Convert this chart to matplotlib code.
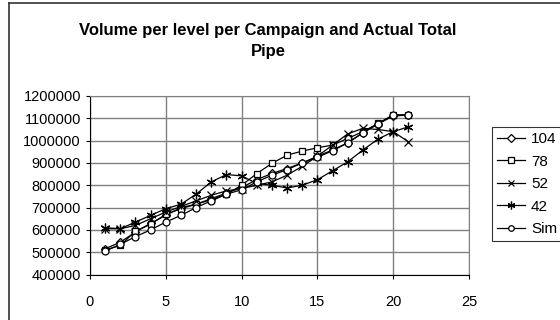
import matplotlib
matplotlib.use('Agg')
import matplotlib.pyplot as plt
from matplotlib.lines import Line2D

plt.rcParams['font.family'] = ['Liberation Sans', 'DejaVu Sans']

levels = list(range(1, 22))
s104 = [515000, 545000, 590000, 630000, 665000, 700000, 715000, 740000, 765000, 790000, 825000,
        853000, 875000, 900000, 930000, 958000, 990000, 1035000, 1075000, 1110000, 1115000]
s78 = [510000, 530000, 595000, 625000, 670000, 695000, 715000, 735000, 760000, 800000, 852000,
       898000, 935000, 953000, 968000, 980000, 1010000, 1040000, 1077000, 1115000, 1115000]
s52 = [605000, 605000, 620000, 650000, 680000, 705000, 730000, 755000, 775000, 785000, 800000,
       815000, 845000, 885000, 930000, 980000, 1030000, 1055000, 1050000, 1040000, 995000]
s42 = [610000, 605000, 635000, 665000, 695000, 715000, 760000, 815000, 848000, 842000, 808000,
       800000, 788000, 800000, 825000, 865000, 905000, 958000, 1007000, 1040000, 1062000]
sim = [505000, 535000, 570000, 600000, 635000, 665000, 700000, 730000, 760000, 780000, 815000,
       845000, 870000, 900000, 925000, 955000, 990000, 1035000, 1075000, 1115000, 1115000]

labels = ['104', '78', '52', '42', 'Sim']
series = [s104, s78, s52, s42, sim]
markers = ['D', 's', 'x', (6, 2, 0), 'o']
msizes = [4.5, 5, 6, 7, 5]

fig = plt.figure(figsize=(5.6, 3.2), dpi=100)
ax = fig.add_axes([90/560, 1-274.5/320, 379/560, 178.5/320])

for y, lab, m, ms in zip(series, labels, markers, msizes):
    ax.plot(levels, y, color='black', lw=0.9, marker=m, markersize=ms,
            markerfacecolor='white', markeredgecolor='black', markeredgewidth=0.9,
            label=lab)

ax.set_xlim(0, 25)
ax.set_ylim(400000, 1200000)
ax.set_xticks([0, 5, 10, 15, 20, 25])
ax.set_yticks(range(400000, 1200001, 100000))
ax.ticklabel_format(axis='y', style='plain', useOffset=False)
ax.grid(True, color='#808080', lw=1.0)
ax.set_axisbelow(True)
ax.tick_params(labelsize=10.5, length=3, direction='out', color='black', width=0.8)
ax.tick_params(axis='x', pad=12)
for side in ['top', 'right']:
    ax.spines[side].set_color('#808080')
for side in ['left', 'bottom']:
    ax.spines[side].set_color('black')

fig.text(268/560, 1-41/320, 'Volume per level per Campaign and Actual Total\nPipe',
         ha='center', va='center', fontsize=12, fontweight='bold', linespacing=1.5)

handles = [Line2D([], [], color='black', lw=0.9, marker=m, markersize=ms * 0.8,
                  markerfacecolor='white', markeredgecolor='black', markeredgewidth=0.9)
           for m, ms in zip(markers, msizes)]
leg = fig.legend(handles, labels, loc='upper left', bbox_to_anchor=(492/560, 1-127/320),
                 fontsize=11, frameon=True, fancybox=False, edgecolor='black',
                 handlelength=1.8, handletextpad=0.4, labelspacing=0.55,
                 borderpad=0.35, borderaxespad=0)
leg.get_frame().set_linewidth(0.8)

# outer chart frame (left and top edges visible)
fig.add_artist(Line2D([8.5/560, 8.5/560], [0, 1-3/320], color='#333333', lw=1.2,
                      transform=fig.transFigure))
fig.add_artist(Line2D([8.5/560, 1], [1-3/320, 1-3/320], color='#333333', lw=1.2,
                      transform=fig.transFigure))

fig.savefig('out.png', dpi=100)
